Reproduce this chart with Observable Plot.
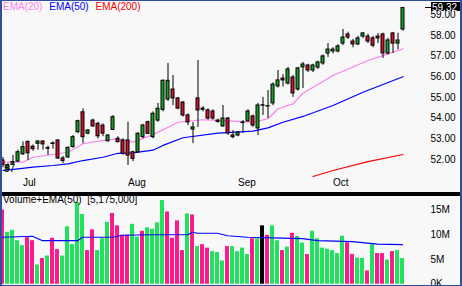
<!DOCTYPE html>
<html><head><meta charset="utf-8">
<script src="https://cdn.jsdelivr.net/npm/d3@7"></script>
<script src="https://cdn.jsdelivr.net/npm/@observablehq/plot@0.6"></script>
<style>
html,body{margin:0;padding:0;background:#f8f8f8;}
#chart{position:relative;width:462px;height:286px;background:#f8f8f8;overflow:hidden;font-family:"Liberation Sans",Arial,sans-serif;font-size:10px;color:#000;}
#chart svg{position:absolute;left:0;}
#sep{position:absolute;left:0;top:192px;width:462px;height:4px;background:#000;}
#border{position:absolute;left:0;top:0;width:462px;height:286px;box-sizing:border-box;border-left:2px solid #2d4f9e;border-top:1px solid #2d4f9e;border-right:2px solid #2d4f9e;border-bottom:1px solid #2d4f9e;pointer-events:none;}
.lbl{position:absolute;white-space:pre;line-height:11px;font-size:10px;}
</style></head><body><div id="chart"></div>
<script>
// ---- data ----
const openP = [51.95,51.50,51.80,51.90,52.25,52.85,52.62,52.76,52.87,52.55,52.75,52.92,52.05,52.10,52.60,53.32,54.28,53.25,53.88,53.72,53.64,52.88,53.43,53.00,52.92,52.92,52.35,52.35,53.08,53.80,53.08,53.88,54.40,54.90,55.38,54.95,54.75,54.13,53.45,54.95,54.40,54.37,54.32,53.88,53.60,53.98,53.16,53.16,53.76,53.84,54.08,53.50,54.60,54.58,54.71,55.53,55.91,55.67,55.96,55.38,56.45,56.54,56.30,56.44,56.64,57.12,57.22,57.22,57.60,58.04,57.70,57.56,57.94,57.94,57.85,57.94,58.04,57.12,58.09,57.60,58.28];
const highP = [52.10,51.80,52.20,52.45,52.85,52.90,52.70,52.90,52.90,52.65,52.85,52.95,52.15,52.60,53.16,53.90,54.45,53.45,53.95,53.80,53.72,53.20,54.12,53.10,53.00,53.80,52.40,53.30,53.70,53.85,54.30,54.71,55.85,56.64,56.06,55.00,54.80,54.20,53.79,56.78,54.55,54.45,54.40,53.95,54.61,54.03,53.40,53.35,53.88,54.40,54.15,54.71,55.00,55.33,55.70,56.30,56.10,56.45,56.06,56.45,56.69,56.60,56.60,56.75,57.05,57.60,57.40,57.55,58.28,58.15,57.80,57.95,58.14,58.05,57.95,58.09,58.10,57.85,58.14,58.10,59.35];
const lowP = [51.60,51.45,51.70,51.85,52.20,51.95,52.40,52.45,52.45,52.20,52.50,52.00,51.80,52.05,52.55,53.25,52.76,53.20,53.55,53.00,53.10,52.85,53.40,52.80,52.20,51.71,51.90,52.30,53.00,53.20,53.00,53.80,54.30,54.80,54.60,54.40,54.05,53.64,52.77,53.55,54.30,53.90,53.90,53.75,53.55,53.16,53.00,53.10,53.26,53.80,53.55,53.16,54.13,53.98,54.60,55.45,55.50,55.60,55.00,55.30,55.43,56.20,56.20,56.35,56.55,56.93,57.10,57.15,57.50,57.80,57.40,57.50,57.85,57.60,57.40,57.60,56.88,57.05,57.12,57.30,58.20];
const closeP = [51.75,51.70,51.88,52.35,52.60,52.30,52.50,52.87,52.73,52.52,52.78,52.05,51.93,52.56,53.08,53.85,53.08,53.40,53.60,53.12,53.25,53.16,54.04,52.84,52.28,52.19,52.03,53.24,53.64,53.24,54.21,54.45,55.80,55.80,54.95,54.46,54.13,53.79,53.55,54.37,54.46,53.98,53.98,53.82,53.98,53.26,53.08,53.30,53.79,54.32,53.64,54.61,54.62,54.56,55.62,55.82,55.82,56.35,55.19,56.40,56.59,56.30,56.54,56.69,56.98,57.31,57.31,57.46,57.89,57.89,57.56,57.85,58.09,57.70,57.50,57.85,57.12,57.75,57.60,57.75,59.32];
// volume in millions of shares; up = 1 when the volume bar is green
const volumeM = [15.0,10.5,10.9,8.8,7.8,9.5,8.8,3.9,5.2,5.7,9.3,7.0,5.7,11.6,8.0,16.5,14.1,6.8,11.0,6.8,9.2,12.5,14.3,11.8,9.9,9.9,12.1,9.5,10.7,11.4,11.1,12.4,16.9,14.6,9.3,12.8,6.8,14.2,14.0,7.6,8.0,7.3,6.6,6.4,4.7,7.6,7.6,6.6,7.3,6.0,9.2,9.2,11.8,9.9,11.8,8.8,6.8,7.5,10.3,9.7,8.3,6.0,10.7,9.2,7.3,7.1,6.8,6.2,9.7,8.4,6.0,5.3,5.2,2.7,8.0,6.2,6.2,4.9,6.6,6.8,5.175];
const volUp = [0,1,1,1,1,0,0,1,0,1,0,0,1,1,1,1,1,0,0,1,1,1,0,0,0,0,1,1,0,1,1,1,1,0,0,0,0,1,0,1,0,0,1,1,1,0,1,1,1,1,0,1,1,0,1,1,0,1,0,1,1,0,1,1,1,1,1,1,1,0,0,1,1,0,1,0,0,1,0,1,1];
const highlightDay = 52;
// moving averages sampled along the lines (day index, value)
const ema20Day = [0,4,6,13,16,20,23,26,30,33,35,40,46,50,53,55,58,60,66,73,76,80];
const ema20Val = [51.87,51.87,52.11,52.35,52.76,52.92,53.00,52.84,53.20,53.56,53.80,53.92,53.85,53.80,53.97,54.45,54.69,55.20,56.06,56.78,57.02,57.35];
const ema50Day = [0,3,6,10,13,16,20,23,26,30,32,36,43,50,53,56,60,66,72,80];
const ema50Val = [51.47,51.55,51.63,51.71,51.79,51.95,52.11,52.30,52.32,52.45,52.68,53.05,53.27,53.37,53.53,53.80,54.08,54.61,55.25,56.00];
const ema200Day = [62,66,73,80];
const ema200Val = [51.18,51.47,51.90,52.24];
const volEmaDay = [0,6,8,15,16,22,24,30,37,38,39,43,45,49,56,60,63,70,75,80];
const volEmaVal = [9.5,9.7,8.8,8.8,9.5,9.5,9.9,10.0,10.0,10.5,10.3,10.3,9.8,9.5,9.3,9.2,8.8,8.6,8.1,8.0];
const monthNames = ["Jul","Aug","Sep","Oct"];
const monthDay = [4,25,47,66];
const priceTicks = [52,53,54,55,56,57,58,59];
const volTicks = [0,5,10,15];

// ---- build ----
const W = 462, MR = 32;
const days = d3.range(closeP.length);
const candles = days.map(i => ({i, o: openP[i], h: highP[i], l: lowP[i], c: closeP[i]}));
const vols = days.map(i => ({i, v: volumeM[i], up: volUp[i]}));
const line = (ds, vs) => ds.map((d, j) => ({d, v: vs[j]}));
const font = "Liberation Sans, Arial, sans-serif";

const pricePlot = Plot.plot({
  width: W, height: 192,
  marginLeft: 0, marginRight: MR, marginTop: 0, marginBottom: 0,
  style: {background: "transparent", fontFamily: font, fontSize: "10px", color: "#000", overflow: "visible"},
  x: {type: "band", domain: days, range: [-0.5, 404.5], paddingInner: 0.4, paddingOuter: 0.2, axis: null},
  y: {domain: [52, 59], range: [159, 14.1], axis: "right", ticks: priceTicks, tickFormat: d => d.toFixed(2), tickSize: 0, tickPadding: 0, label: null},
  marks: [
    Plot.line(line(ema200Day, ema200Val), {x: "d", y: "v", stroke: "#ff0000", strokeWidth: 1.2}),
    Plot.line(line(ema50Day, ema50Val), {x: "d", y: "v", stroke: "#0000ff", strokeWidth: 1.2}),
    Plot.line(line(ema20Day, ema20Val), {x: "d", y: "v", stroke: "#ff80f0", strokeWidth: 1.2}),
    Plot.ruleX(candles, {x: "i", y1: "l", y2: "h", stroke: "#000", strokeWidth: 1}),
    Plot.barY(candles, {x: "i", y1: "o", y2: "c", fill: d => d.c >= d.o ? "#14a024" : "#d0102c", stroke: "#000", strokeWidth: 1}),
    Plot.text(monthNames, {x: (d, j) => monthDay[j], text: d => d, frameAnchor: "bottom", dy: -7, textAnchor: "start", fill: "#000", fontSize: 10})
  ]
});

const volPlot = Plot.plot({
  width: W, height: 90,
  marginLeft: 0, marginRight: MR, marginTop: 0, marginBottom: 0,
  style: {background: "transparent", fontFamily: font, fontSize: "10px", color: "#000", overflow: "visible"},
  x: {type: "band", domain: days, range: [-0.5, 404.5], paddingInner: 0.2, paddingOuter: 0.1, axis: null},
  y: {domain: [0, 15], range: [87.75, 13.5], axis: "right", ticks: volTicks, tickFormat: d => d === 0 ? "0K" : d + "M", tickSize: 0, tickPadding: 0, label: null},
  marks: [
    Plot.barY(vols, {x: "i", y: "v", fill: d => d.i === highlightDay ? "#000" : d.up ? "#20e25c" : "#ff1a8c"}),
    Plot.line(line(volEmaDay, volEmaVal), {x: "d", y: "v", stroke: "#0000ff", strokeWidth: 1.2})
  ]
});

const chart = document.getElementById("chart");
pricePlot.style.top = "0px";
volPlot.style.top = "196px";
chart.appendChild(pricePlot);
chart.appendChild(volPlot);

// last price marker
const lastClose = closeP[closeP.length - 1];
const yl = Math.round(pricePlot.scale("y").apply(lastClose));
const gx = W - MR;
const g = d3.select(pricePlot).append("g");
g.append("line").attr("x1", gx - 5).attr("x2", gx + 1).attr("y1", yl + 0.5).attr("y2", yl + 0.5).attr("stroke", "#000");
g.append("rect").attr("x", gx + 1).attr("y", yl - 5).attr("width", 29).attr("height", 9).attr("fill", "#000");
g.append("text").attr("x", gx + 2).attr("y", yl + 3.5).attr("text-anchor", "start").attr("fill", "#fff").attr("font-size", 10).text(lastClose.toFixed(2));

const sep = document.createElement("div"); sep.id = "sep"; chart.appendChild(sep);

function label(html, left, top) {
  const d = document.createElement("div");
  d.className = "lbl"; d.style.left = left + "px"; d.style.top = top + "px";
  d.innerHTML = html; chart.appendChild(d); return d;
}
label('<span style="color:#ff80f0">EMA(20)</span> <span style="color:#0000ff;margin-left:4px">EMA(50)</span> <span style="color:#ff0000;margin-left:4px">EMA(200)</span>', 3, 1);
label("Volume+EMA(50)  [" + d3.format(",")(Math.round(volumeM[volumeM.length - 1] * 1e6)) + "]", 3, 194);
label("57", 4, 163);

const b = document.createElement("div"); b.id = "border"; chart.appendChild(b);
</script></body></html>
